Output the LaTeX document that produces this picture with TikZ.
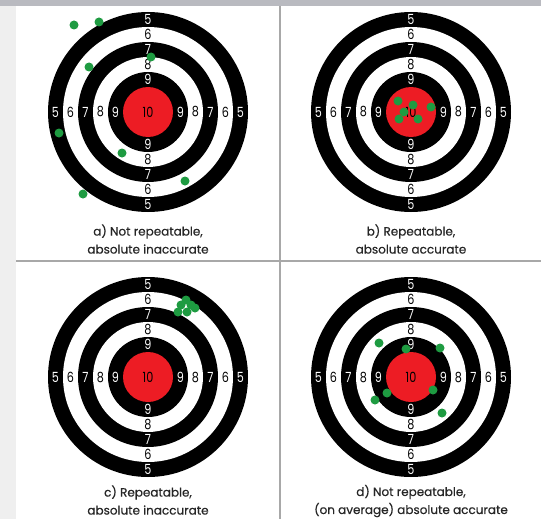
\documentclass[tikz,border=0pt]{standalone}
\usepackage{fontspec}
\setmainfont{Poppins}
\newfontfamily\capfont{Poppins}[FakeBold=0.4]
\newfontfamily\numfont{Poppins}[FakeStretch=0.8]
\definecolor{tred}{HTML}{ED1C24}
\definecolor{dgreen}{HTML}{1E9B41}
\definecolor{topgray}{HTML}{B9BAC0}
\definecolor{sidegray}{HTML}{EFEFEF}
\definecolor{divgray}{HTML}{A8A8A8}
\tikzset{
  num/.style={inner sep=0pt, font=\numfont\fontsize{14}{14}\selectfont},
  dot/.style={circle, fill=dgreen, draw=none, inner sep=0pt, minimum size=9pt},
  caption/.style={align=center, inner sep=0pt, font=\capfont\fontsize{12}{18}\selectfont, text=black!85},
  divider/.style={draw=divgray, line width=1.6pt},
  target/.pic={
    \fill[black] (0,0) circle[radius=100pt];
    \fill[white] (0,0) circle[radius=85pt];
    \fill[black] (0,0) circle[radius=70pt];
    \fill[white] (0,0) circle[radius=55pt];
    \fill[black] (0,0) circle[radius=40pt];
    \fill[tred] (0,0) circle[radius=25pt];
    \node[num, text=black] (-ten) at (0,0) {10};
    \foreach \n/\r/\c in {5/92.5/white,6/77.5/black,7/62.5/white,8/47.5/black,9/32.5/white}{
      \node[num, text=\c] (-t\n) at (0,-\r) {\n};
      \node[num, text=\c] (-b\n) at (0,\r) {\n};
      \node[num, text=\c] (-l\n) at (-\r,0) {\n};
      \node[num, text=\c] (-r\n) at (\r,0) {\n};
    }
  }
}
\begin{document}
\begin{tikzpicture}[x=1pt, y=-1pt]
  \useasboundingbox (0,0) rectangle (541,519);
  \fill[white] (0,0) rectangle (541,519);
  \fill[sidegray] (0,0) rectangle (16,519);
  \fill[topgray] (0,0) rectangle (541,6);
  \coordinate (vtop) at (280,6);
  \coordinate (vbot) at (280,519);
  \coordinate (hl) at (16,261);
  \coordinate (hr) at (541,261);
  \draw[divider] (vtop) -- (vbot);
  \draw[divider] (hl) -- (hr);

  \pic (ta) at (148,112) {target};
  \pic (tb) at (411,112) {target};
  \pic (tc) at (148,377) {target};
  \pic (td) at (411,377) {target};

  % a
  \foreach \x/\y [count=\i] in {74/25, 99/22, 89/67, 151/57, 59/133, 122/153, 185/181, 83/194}
    \node[dot] (a\i) at (\x,\y) {};
  % b
  \foreach \x/\y [count=\i] in {398/101, 413/105, 404/112, 431/107, 399/119, 418/119}
    \node[dot] (b\i) at (\x,\y) {};
  % c
  \foreach \x/\y [count=\i] in {186/300, 181/305, 191/305, 178/312, 187/312, 195/308}
    \node[dot] (c\i) at (\x,\y) {};
  % d
  \foreach \x/\y [count=\i] in {379/343, 406/349, 440/348, 387/393, 433/390, 375/400, 442/413}
    \node[dot] (d\i) at (\x,\y) {};

  \node[caption] (capa) at (148,239) {a) Not repeatable,\\absolute inaccurate};
  \node[caption] (capb) at (411,239) {b) Repeatable,\\absolute accurate};
  \node[caption] (capc) at (148,500) {c) Repeatable,\\absolute inaccurate};
  \node[caption] (capd) at (411,501) {d) Not repeatable,\\(on average) absolute accurate};
\end{tikzpicture}
\end{document}
